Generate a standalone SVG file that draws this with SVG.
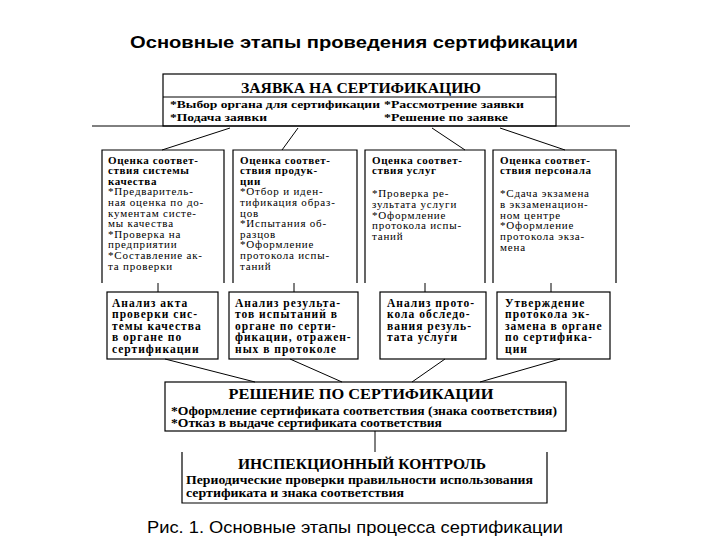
<svg xmlns="http://www.w3.org/2000/svg" width="720" height="540" viewBox="0 0 720 540">
<style>
.bg{fill:#ffffff}
.box{fill:none;stroke:#000;stroke-width:1.2}
.ln{fill:none;stroke:#000;stroke-width:1}
.ttl{font-family:"Liberation Sans",Arial,sans-serif;font-size:17px;fill:#000}
.hd{font-family:"Liberation Serif","Times New Roman",serif;font-size:15px;font-weight:bold;fill:#000}
.it{font-family:"Liberation Serif","Times New Roman",serif;font-size:12px;font-weight:bold;fill:#000}
.ti{font-family:"Liberation Serif","Times New Roman",serif;font-size:11px;font-weight:bold;fill:#000}
.ct{font-family:"Liberation Serif","Times New Roman",serif;font-size:11px;fill:#000;letter-spacing:0.8px}
.cb{font-family:"Liberation Serif","Times New Roman",serif;font-size:11px;font-weight:bold;fill:#000;letter-spacing:0.6px}
.ab{font-family:"Liberation Serif","Times New Roman",serif;font-size:11.5px;font-weight:bold;fill:#000;letter-spacing:1px}
</style>
<rect class="bg" x="0" y="0" width="720" height="540"/>
<text class="ttl" x="354" y="48" text-anchor="middle" font-weight="bold" textLength="448" lengthAdjust="spacingAndGlyphs">Основные этапы проведения сертификации</text>

<g id="connectors">
<line class="ln" x1="92" y1="126" x2="630" y2="126"/>
<line class="ln" x1="230" y1="128" x2="162" y2="150"/>
<line class="ln" x1="298" y1="128" x2="282" y2="150"/>
<line class="ln" x1="432" y1="128" x2="465" y2="150"/>
<line class="ln" x1="500" y1="128" x2="565" y2="150"/>
<line class="ln" x1="158" y1="283" x2="158" y2="292"/>
<line class="ln" x1="294" y1="283" x2="294" y2="292"/>
<line class="ln" x1="425" y1="283" x2="425" y2="292"/>
<line class="ln" x1="551" y1="283" x2="551" y2="292"/>
<line class="ln" x1="165" y1="359" x2="255" y2="382"/>
<line class="ln" x1="290" y1="359" x2="342" y2="382"/>
<line class="ln" x1="445" y1="359" x2="412" y2="382"/>
<line class="ln" x1="560" y1="359" x2="480" y2="382"/>
<line class="ln" x1="375" y1="431" x2="375" y2="452"/>
</g>

<g id="zayavka">
<rect class="box" x="163" y="74" width="393" height="52"/>
<line class="ln" x1="163" y1="97" x2="556" y2="97"/>
<text class="hd" x="361" y="93" text-anchor="middle" textLength="240" lengthAdjust="spacingAndGlyphs">ЗАЯВКА НА СЕРТИФИКАЦИЮ</text>
<text class="ti" x="170" y="107.5" textLength="210" lengthAdjust="spacingAndGlyphs">*Выбор органа для сертификации</text>
<text class="ti" x="384" y="107.5" textLength="140" lengthAdjust="spacingAndGlyphs">*Рассмотрение заявки</text>
<text class="ti" x="170" y="120.5" textLength="97" lengthAdjust="spacingAndGlyphs">*Подача заявки</text>
<text class="ti" x="384" y="120.5" textLength="124" lengthAdjust="spacingAndGlyphs">*Решение по заявке</text>
</g>

<g id="col1">
<path class="box" d="M102,283 V150 H224 V283"/>
<text class="cb" x="108" y="163.5">Оценка соответ-</text>
<text class="cb" x="108" y="174.1">ствия системы</text>
<text class="cb" x="108" y="184.7">качества</text>
<text class="ct" x="108" y="195.3">*Предваритель-</text>
<text class="ct" x="108" y="205.9">ная оценка по до-</text>
<text class="ct" x="108" y="216.5">кументам систе-</text>
<text class="ct" x="108" y="227.1">мы качества</text>
<text class="ct" x="108" y="237.7">*Проверка на</text>
<text class="ct" x="108" y="248.3">предприятии</text>
<text class="ct" x="108" y="258.9">*Составление ак-</text>
<text class="ct" x="108" y="269.5">та проверки</text>
</g>

<g id="col2">
<path class="box" d="M233,283 V150 H357 V283"/>
<text class="cb" x="240" y="163.5">Оценка соответ-</text>
<text class="cb" x="240" y="174.1">ствия продук-</text>
<text class="cb" x="240" y="184.7">ции</text>
<text class="ct" x="240" y="195.3">*Отбор и иден-</text>
<text class="ct" x="240" y="205.9">тификация образ-</text>
<text class="ct" x="240" y="216.5">цов</text>
<text class="ct" x="240" y="227.1">*Испытания об-</text>
<text class="ct" x="240" y="237.7">разцов</text>
<text class="ct" x="240" y="248.3">*Оформление</text>
<text class="ct" x="240" y="258.9">протокола испы-</text>
<text class="ct" x="240" y="269.5">таний</text>
</g>

<g id="col3">
<path class="box" d="M365,283 V150 H485 V283"/>
<text class="cb" x="372" y="163.5">Оценка соответ-</text>
<text class="cb" x="372" y="174.3">ствия услуг</text>
<text class="ct" x="372" y="197">*Проверка ре-</text>
<text class="ct" x="372" y="207.8">зультата услуги</text>
<text class="ct" x="372" y="218.6">*Оформление</text>
<text class="ct" x="372" y="229.4">протокола испы-</text>
<text class="ct" x="372" y="240.2">таний</text>
</g>

<g id="col4">
<path class="box" d="M493,283 V150 H616 V283"/>
<text class="cb" x="500" y="163.5">Оценка соответ-</text>
<text class="cb" x="500" y="174.3">ствия персонала</text>
<text class="ct" x="500" y="197">*Сдача экзамена</text>
<text class="ct" x="500" y="207.8">в экзаменацион-</text>
<text class="ct" x="500" y="218.6">ном центре</text>
<text class="ct" x="500" y="229.4">*Оформление</text>
<text class="ct" x="500" y="240.2">протокола экза-</text>
<text class="ct" x="500" y="251">мена</text>
</g>

<g id="analiz1">
<rect class="box" x="107" y="292" width="111" height="67"/>
<text class="ab" x="112" y="306.5">Анализ акта</text>
<text class="ab" x="112" y="318">проверки сис-</text>
<text class="ab" x="112" y="329.5">темы качества</text>
<text class="ab" x="112" y="341">в органе по</text>
<text class="ab" x="112" y="352.5">сертификации</text>
</g>

<g id="analiz2">
<rect class="box" x="229" y="292" width="129" height="67"/>
<text class="ab" x="235" y="306.5">Анализ результа-</text>
<text class="ab" x="235" y="318">тов испытаний в</text>
<text class="ab" x="235" y="329.5">органе по серти-</text>
<text class="ab" x="235" y="341">фикации, отражен-</text>
<text class="ab" x="235" y="352.5">ных в протоколе</text>
</g>

<g id="analiz3">
<rect class="box" x="380" y="292" width="106" height="67"/>
<text class="ab" x="387" y="306.5">Анализ прото-</text>
<text class="ab" x="387" y="318">кола обследо-</text>
<text class="ab" x="387" y="329.5">вания резуль-</text>
<text class="ab" x="387" y="341">тата услуги</text>
</g>

<g id="analiz4">
<rect class="box" x="497" y="292" width="113" height="67"/>
<text class="ab" x="505" y="306.5">Утверждение</text>
<text class="ab" x="505" y="318">протокола эк-</text>
<text class="ab" x="505" y="329.5">замена в органе</text>
<text class="ab" x="505" y="341">по сертифика-</text>
<text class="ab" x="505" y="352.5">ции</text>
</g>

<g id="reshenie">
<rect class="box" x="165" y="382" width="401" height="49"/>
<text class="hd" x="361" y="399" text-anchor="middle" textLength="265" lengthAdjust="spacingAndGlyphs">РЕШЕНИЕ ПО СЕРТИФИКАЦИИ</text>
<text class="it" x="171" y="414.5" textLength="386" lengthAdjust="spacingAndGlyphs">*Оформление сертификата соответствия (знака соответствия)</text>
<text class="it" x="171" y="427" textLength="271" lengthAdjust="spacingAndGlyphs">*Отказ в выдаче сертификата соответствия</text>
</g>

<g id="inspekciya">
<path class="box" d="M182,452 V503 H547 V452"/>
<text class="hd" x="362" y="469" text-anchor="middle" textLength="248" lengthAdjust="spacingAndGlyphs">ИНСПЕКЦИОННЫЙ КОНТРОЛЬ</text>
<text class="it" x="186" y="484" textLength="347" lengthAdjust="spacingAndGlyphs">Периодические проверки правильности использования</text>
<text class="it" x="186" y="496.5" textLength="218" lengthAdjust="spacingAndGlyphs">сертификата и знака соответствия</text>
</g>

<text class="ttl" x="355" y="533" text-anchor="middle" textLength="416" lengthAdjust="spacingAndGlyphs">Рис. 1. Основные этапы процесса сертификации</text>
</svg>
